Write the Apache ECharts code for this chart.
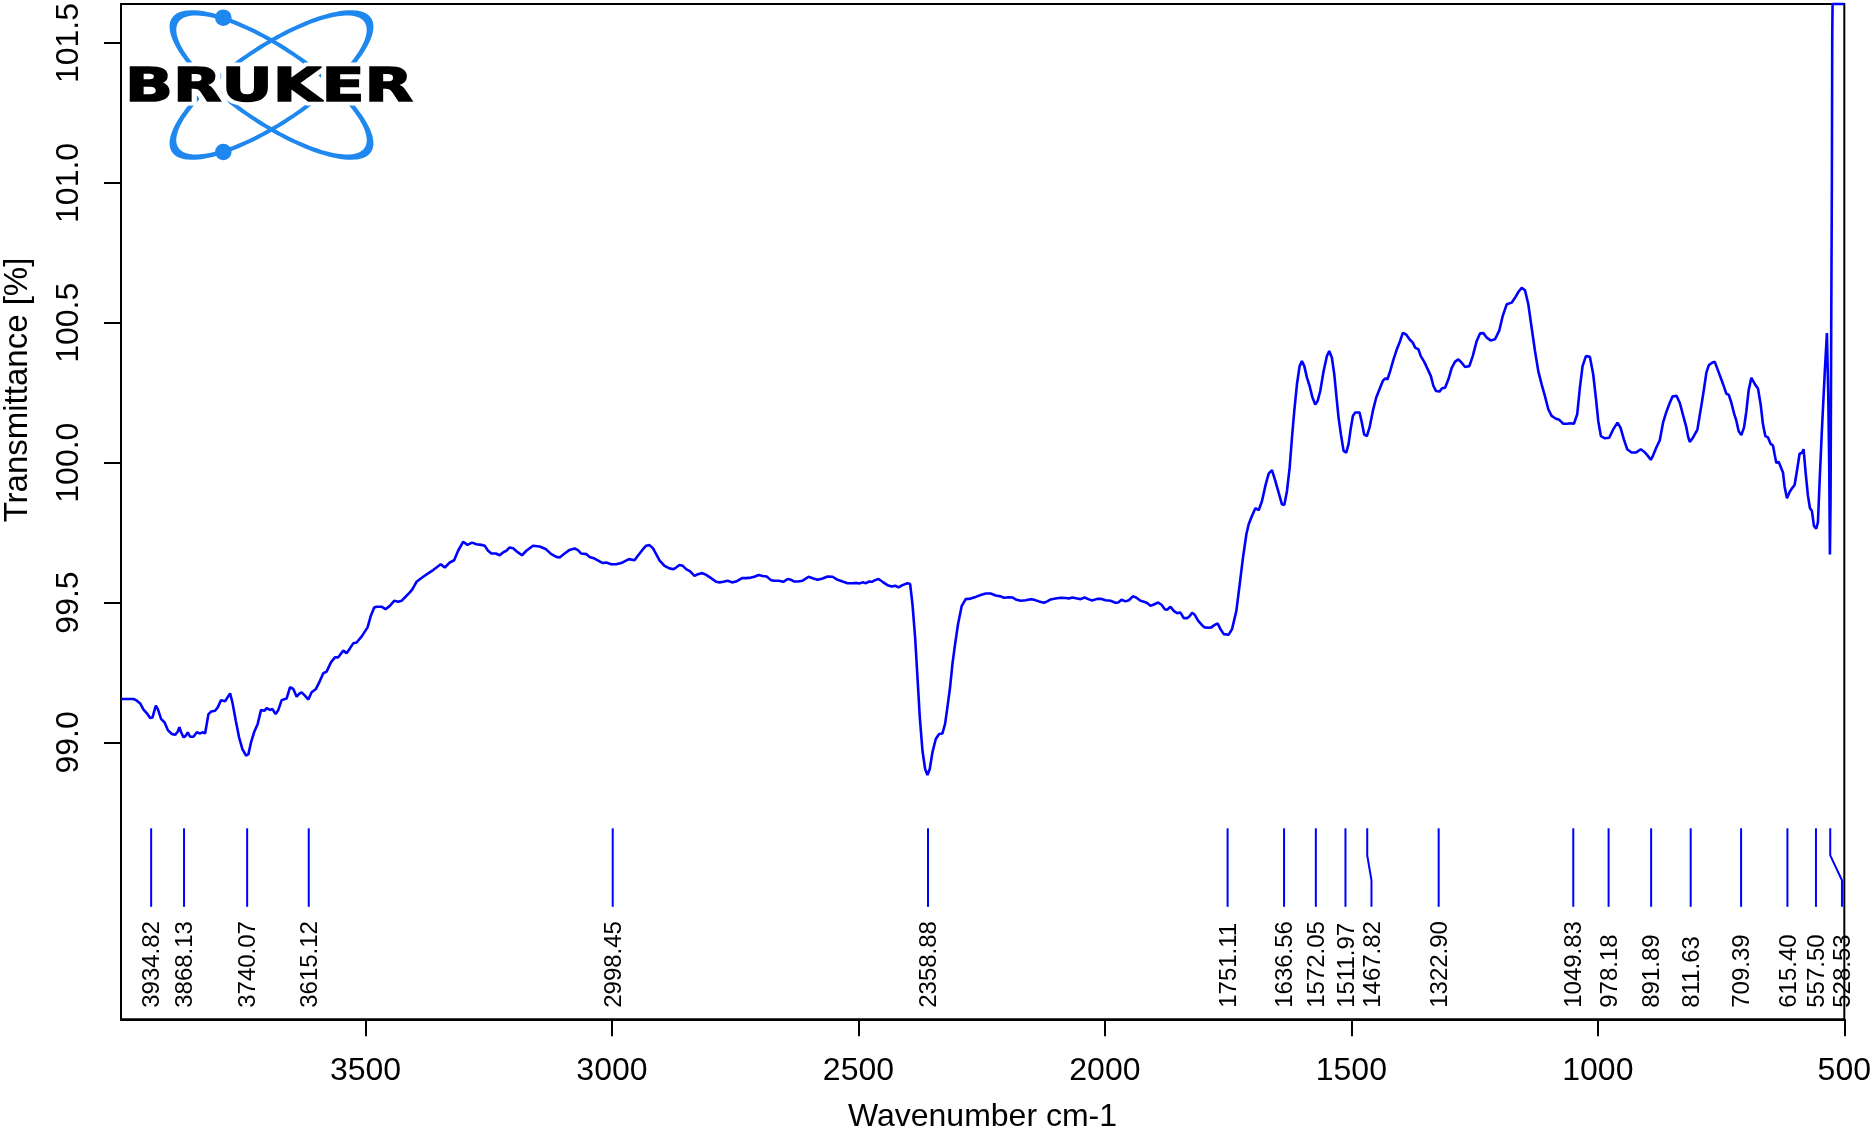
<!DOCTYPE html>
<html>
<head>
<meta charset="utf-8">
<script src="https://cdn.jsdelivr.net/npm/echarts@6.0.0/dist/echarts.min.js"></script>
<style>
  html, body { margin: 0; padding: 0; background: #fff; }
  #chart { width: 1874px; height: 1145px; }
</style>
</head>
<body>
<div id="chart"></div>
<script>
// spectrum (wavenumber in cm-1, transmittance in %)
const wavenumbers = [
  3996, 3970.6, 3963.8, 3957.1, 3950.3, 3943.5, 3936.8, 3932.1, 3925.3, 3921.3, 3914.5, 3907.8, 3901.0, 3892.9,
  3886.2, 3880.7, 3877.4, 3874.0, 3869.3, 3864.5, 3860.5, 3855.8, 3849.0, 3842.2, 3835.5, 3830.8, 3825.4, 3818.6,
  3813.2, 3805.1, 3799.7, 3793.0, 3784.9, 3774.7, 3770.0, 3763.2, 3756.5, 3749.7, 3742.3, 3737.5, 3732.2, 3725.4,
  3718.7, 3711.9, 3705.2, 3700.4, 3693.7, 3689.0, 3682.2, 3676.8, 3670.1, 3659.9, 3653.2, 3646.4, 3639.7, 3634.9,
  3629.5, 3622.8, 3616.0, 3609.3, 3600.5, 3592.4, 3585.6, 3578.9, 3570.1, 3562.0, 3555.3, 3545.1, 3538.4, 3531.6,
  3524.9, 3518.1, 3508.0, 3495.8, 3489.1, 3482.3, 3477.6, 3467.5, 3459.4, 3450.6, 3441.8, 3433.7, 3426.9, 3420.2,
  3410.1, 3404.7, 3396.5, 3389.8, 3383.0, 3372.9, 3362.8, 3356.0, 3347.3, 3339.1, 3329.0, 3320.2, 3312.1, 3302.0,
  3293.2, 3283.8, 3275.0, 3264.9, 3258.1, 3251.4, 3244.6, 3235.8, 3227.7, 3221.0, 3214.2, 3207.5, 3200.7, 3190.6,
  3182.5, 3173.7, 3160.2, 3146.7, 3134.5, 3123.0, 3112.9, 3106.2, 3096.0, 3085.9, 3075.8, 3069.0, 3062.3, 3052.1,
  3045.4, 3035.3, 3025.1, 3018.4, 3011.6, 3001.5, 2991.4, 2981.2, 2972.5, 2965.7, 2954.2, 2947.5, 2938.7, 2930.6,
  2923.8, 2917.0, 2910.3, 2903.6, 2893.4, 2883.3, 2875.2, 2869.8, 2863.1, 2856.3, 2849.6, 2841.4, 2832.7, 2825.9,
  2817.1, 2809.0, 2798.9, 2788.8, 2782.0, 2773.9, 2765.1, 2756.4, 2748.3, 2736.1, 2728.0, 2717.9, 2711.1, 2702.3,
  2694.2, 2686.1, 2677.4, 2670.6, 2661.8, 2652.4, 2643.6, 2636.8, 2630.1, 2623.3, 2613.2, 2601.0, 2592.9, 2582.8,
  2572.7, 2562.5, 2552.4, 2542.3, 2532.2, 2522.0, 2511.9, 2503.8, 2498.4, 2491.6, 2484.9, 2478.1, 2472.7, 2466.0,
  2459.2, 2451.1, 2441.0, 2432.2, 2425.5, 2418.7, 2410.6, 2400.5, 2395.1, 2390.4, 2385.0, 2380.2, 2375.5, 2370.1,
  2364.7, 2360.0, 2355.3, 2349.9, 2343.1, 2336.3, 2329.6, 2324.2, 2319.5, 2314.1, 2309.3, 2303.9, 2297.9, 2290.4,
  2282.3, 2272.2, 2262.1, 2251.9, 2241.8, 2231.7, 2221.5, 2211.4, 2204.7, 2194.5, 2187.8, 2181.0, 2170.9, 2160.8,
  2150.6, 2143.9, 2133.8, 2123.6, 2116.9, 2110.1, 2100.0, 2089.9, 2079.7, 2073.0, 2066.2, 2056.1, 2049.3, 2041.2,
  2033.8, 2025.7, 2015.6, 2008.8, 1998.7, 1988.6, 1978.4, 1973.0, 1966.3, 1958.2, 1951.4, 1943.3, 1936.6, 1927.8,
  1921.0, 1914.3, 1907.5, 1900.8, 1892.0, 1885.2, 1878.5, 1873.8, 1867.0, 1860.3, 1853.5, 1846.8, 1840.0, 1833.3,
  1828.5, 1823.1, 1817.7, 1811.0, 1802.9, 1797.5, 1789.4, 1784.0, 1777.2, 1771.1, 1765.7, 1758.9, 1748.8, 1742.1,
  1733.3, 1726.5, 1719.8, 1713.0, 1708.3, 1701.5, 1694.8, 1688.0, 1681.3, 1674.5, 1667.8, 1661.0, 1654.3, 1647.5,
  1640.8, 1636.0, 1630.6, 1625.2, 1620.5, 1615.8, 1610.4, 1605.0, 1600.3, 1595.5, 1590.1, 1584.7, 1579.3, 1573.2,
  1568.5, 1563.1, 1556.4, 1549.6, 1544.9, 1539.5, 1534.7, 1530.7, 1526.0, 1521.2, 1515.8, 1510.4, 1505.7, 1501.0,
  1496.9, 1492.2, 1483.4, 1478.7, 1474.0, 1468.6, 1463.2, 1456.4, 1449.7, 1442.9, 1436.2, 1431.4, 1426.7, 1421.3,
  1414.5, 1407.8, 1401.0, 1395.6, 1388.9, 1382.1, 1375.4, 1370.6, 1363.9, 1359.2, 1352.4, 1345.7, 1338.9, 1333.5,
  1328.1, 1321.3, 1315.9, 1309.9, 1303.1, 1296.4, 1289.6, 1282.9, 1276.1, 1269.4, 1260.6, 1253.8, 1245.7, 1239.0,
  1232.2, 1225.5, 1217.4, 1208.6, 1199.8, 1193.0, 1184.9, 1174.8, 1168.0, 1161.3, 1154.5, 1147.8, 1141.0, 1134.3,
  1127.5, 1120.8, 1114.0, 1107.3, 1100.5, 1093.8, 1085.0, 1078.2, 1070.1, 1062.0, 1055.3, 1048.5, 1041.8, 1036.4,
  1031.0, 1024.2, 1016.1, 1009.4, 1004.0, 999.2, 993.8, 985.7, 976.9, 968.8, 960.1, 954.0, 947.2, 940.5,
  931.7, 922.9, 912.8, 906.0, 899.3, 892.5, 887.8, 881.1, 874.3, 867.6, 860.8, 854.0, 848.6, 840.5,
  833.8, 827.0, 820.3, 816.9, 813.5, 806.8, 798.0, 793.3, 788.5, 784.5, 779.8, 775.0, 768.3, 762.9,
  756.1, 749.4, 744.0, 739.2, 734.5, 729.1, 723.7, 719.0, 714.3, 708.9, 703.5, 698.8, 694.0, 688.6,
  685.2, 680.5, 675.1, 669.7, 665.0, 660.2, 654.8, 649.4, 644.7, 641.3, 637.9, 633.2, 629.2, 624.4,
  621.1, 616.3, 610.9, 606.2, 600.8, 595.4, 590.7, 585.9, 582.6, 578.5, 573.8, 569.7, 565.7, 561.6,
  556.9, 553.5, 550.2, 545.4, 540.0, 535.3, 532.6, 530.6, 529.2, 527.9, 526.5, 525.2, 524.5, 523.8, 500
];
const transmittance = [
  99.155, 99.155, 99.149, 99.139, 99.117, 99.104, 99.087, 99.089, 99.131, 99.119, 99.083, 99.072, 99.044, 99.030,
  99.027, 99.039, 99.054, 99.036, 99.018, 99.024, 99.036, 99.020, 99.020, 99.036, 99.032, 99.036, 99.032, 99.101,
  99.110, 99.113, 99.125, 99.151, 99.147, 99.175, 99.143, 99.078, 99.018, 98.976, 98.953, 98.958, 99.000, 99.039,
  99.066, 99.116, 99.113, 99.122, 99.116, 99.119, 99.101, 99.116, 99.151, 99.157, 99.197, 99.191, 99.163, 99.173,
  99.179, 99.167, 99.153, 99.179, 99.191, 99.220, 99.247, 99.253, 99.286, 99.304, 99.304, 99.328, 99.319, 99.336,
  99.354, 99.357, 99.378, 99.411, 99.453, 99.482, 99.485, 99.485, 99.476, 99.488, 99.506, 99.503, 99.506, 99.518,
  99.536, 99.548, 99.574, 99.583, 99.592, 99.604, 99.616, 99.625, 99.637, 99.625, 99.643, 99.651, 99.685, 99.717,
  99.706, 99.714, 99.708, 99.706, 99.703, 99.685, 99.675, 99.675, 99.669, 99.679, 99.685, 99.697, 99.694, 99.679,
  99.669, 99.685, 99.703, 99.700, 99.691, 99.673, 99.663, 99.661, 99.675, 99.688, 99.693, 99.687, 99.675, 99.673,
  99.663, 99.657, 99.647, 99.641, 99.643, 99.637, 99.637, 99.641, 99.649, 99.655, 99.651, 99.667, 99.687, 99.703,
  99.705, 99.694, 99.673, 99.651, 99.631, 99.622, 99.619, 99.625, 99.634, 99.631, 99.619, 99.611, 99.595, 99.601,
  99.605, 99.599, 99.587, 99.574, 99.572, 99.574, 99.578, 99.572, 99.575, 99.587, 99.587, 99.589, 99.592, 99.598,
  99.595, 99.593, 99.580, 99.578, 99.578, 99.574, 99.584, 99.581, 99.575, 99.575, 99.578, 99.592, 99.587, 99.581,
  99.586, 99.593, 99.592, 99.581, 99.575, 99.569, 99.569, 99.570, 99.568, 99.572, 99.569, 99.575, 99.574, 99.580,
  99.584, 99.574, 99.562, 99.557, 99.560, 99.554, 99.562, 99.569, 99.566, 99.494, 99.375, 99.232, 99.089, 98.970,
  98.905, 98.883, 98.905, 98.964, 99.012, 99.030, 99.032, 99.066, 99.125, 99.197, 99.280, 99.351, 99.423, 99.488,
  99.512, 99.514, 99.520, 99.527, 99.532, 99.532, 99.525, 99.522, 99.517, 99.519, 99.518, 99.511, 99.506, 99.508,
  99.512, 99.510, 99.504, 99.499, 99.504, 99.511, 99.514, 99.517, 99.516, 99.514, 99.518, 99.514, 99.512, 99.518,
  99.512, 99.507, 99.513, 99.513, 99.508, 99.506, 99.499, 99.500, 99.510, 99.504, 99.508, 99.522, 99.518, 99.506,
  99.503, 99.498, 99.488, 99.493, 99.500, 99.492, 99.476, 99.474, 99.485, 99.470, 99.462, 99.464, 99.444, 99.444,
  99.450, 99.463, 99.456, 99.435, 99.419, 99.411, 99.410, 99.411, 99.420, 99.425, 99.405, 99.387, 99.385, 99.405,
  99.470, 99.566, 99.661, 99.744, 99.780, 99.810, 99.837, 99.830, 99.863, 99.917, 99.961, 99.973, 99.935, 99.893,
  99.851, 99.849, 99.899, 99.982, 100.089, 100.185, 100.280, 100.345, 100.363, 100.345, 100.304, 100.274, 100.235, 100.208,
  100.220, 100.256, 100.327, 100.381, 100.399, 100.375, 100.316, 100.244, 100.161, 100.101, 100.042, 100.036, 100.066, 100.125,
  100.167, 100.179, 100.179, 100.143, 100.101, 100.095, 100.125, 100.185, 100.232, 100.262, 100.292, 100.301, 100.298, 100.327,
  100.369, 100.405, 100.435, 100.464, 100.458, 100.441, 100.429, 100.411, 100.405, 100.381, 100.361, 100.336, 100.310, 100.274,
  100.256, 100.254, 100.266, 100.268, 100.298, 100.339, 100.361, 100.369, 100.357, 100.342, 100.345, 100.381, 100.435, 100.462,
  100.463, 100.447, 100.437, 100.441, 100.473, 100.524, 100.566, 100.572, 100.589, 100.610, 100.625, 100.616, 100.566, 100.482,
  100.399, 100.327, 100.280, 100.238, 100.191, 100.167, 100.157, 100.153, 100.139, 100.139, 100.141, 100.139, 100.173, 100.268,
  100.345, 100.381, 100.378, 100.316, 100.232, 100.149, 100.095, 100.087, 100.089, 100.119, 100.143, 100.125, 100.083, 100.048,
  100.036, 100.036, 100.048, 100.039, 100.026, 100.010, 100.026, 100.055, 100.080, 100.144, 100.182, 100.214, 100.236, 100.239,
  100.214, 100.169, 100.125, 100.093, 100.074, 100.090, 100.118, 100.169, 100.220, 100.265, 100.322, 100.348, 100.357, 100.361,
  100.329, 100.297, 100.271, 100.246, 100.243, 100.214, 100.176, 100.150, 100.112, 100.099, 100.125, 100.182, 100.259, 100.303,
  100.297, 100.278, 100.265, 100.208, 100.137, 100.095, 100.090, 100.067, 100.061, 100.029, 99.999, 100.003, 100.010, 99.965,
  99.914, 99.873, 99.895, 99.908, 99.920, 99.978, 100.032, 100.035, 100.048, 99.965, 99.882, 99.838, 99.827, 99.774,
  99.764, 99.787, 99.927, 100.118, 100.310, 100.463, 100.246, 99.991, 99.672, 99.863, 100.501, 101.011, 101.521, 101.64, 101.64
];
// peak picking labels
const peakWavenumbers = [
  3934.82, 3868.13, 3740.07, 3615.12, 2998.45, 2358.88, 1751.11, 1636.56, 1572.05, 1511.97,
  1467.82, 1322.90, 1049.83, 978.18, 891.89, 811.63, 709.39, 615.40, 557.50, 528.53
];
const xTickValues = [500, 1000, 1500, 2000, 2500, 3000, 3500];
const yTickValues = [99.0, 99.5, 100.0, 100.5, 101.0, 101.5];
const xRange = [500, 3996];
const yRange = [98.01, 101.64];

const FONT = '"Liberation Sans", Arial, sans-serif';
const LOGO_BLUE = '#1f88ee';

const chart = echarts.init(document.getElementById('chart'));

function renderPeak(params, api) {
  const cs = params.coordSys;
  const bottom = cs.y + cs.height;
  const xs = peakWavenumbers.map((w) => api.coord([w, yRange[0]])[0]);
  // push labels apart when two peaks are too close
  const lx = [];
  xs.forEach((x, i) => lx.push(i === 0 ? x : Math.max(x, lx[i - 1] + 26)));
  const i = params.dataIndex;
  const x = xs[i];
  const l = lx[i];
  return {
    type: 'group',
    children: [
      {
        type: 'polyline',
        shape: { points: [[x, bottom - 191], [x, bottom - 164], [l, bottom - 139], [l, bottom - 112.5]] },
        style: { stroke: '#0000ff', lineWidth: 2, fill: 'none' }
      },
      {
        type: 'text',
        x: l + 1.5,
        y: bottom - 11.5,
        rotation: Math.PI / 2,
        style: {
          text: peakWavenumbers[i].toFixed(2),
          font: '24px ' + FONT,
          fill: '#000',
          align: 'left',
          verticalAlign: 'middle'
        }
      }
    ]
  };
}

// one orbit of the logo: a crescent between two rotated ellipses
function orbit(cx, cy, deg) {
  const a = deg * Math.PI / 180, c = Math.cos(a), s = Math.sin(a);
  const pts = [];
  const ring = (ra, rb, dir) => {
    for (let k = 0; k <= 160; k++) {
      const t = dir * 2 * Math.PI * k / 160;
      const u = ra * Math.cos(t), w = rb * Math.sin(t);
      pts.push([cx + u * c - w * s, cy + u * s + w * c]);
    }
  };
  ring(120, 39.8, 1);
  ring(112.3, 35.8, -1);
  return pts;
}

const option = {
  animation: false,
  backgroundColor: '#fff',
  grid: {
    left: 121, right: 28, top: 2.7, bottom: 125.7,
    show: true, borderColor: '#000', borderWidth: 2, backgroundColor: 'transparent'
  },
  xAxis: {
    type: 'value',
    inverse: true,
    min: xRange[0],
    max: xRange[1],
    interval: 500,
    axisLine: { onZero: false, lineStyle: { color: '#000', width: 2 } },
    axisTick: { length: 17, lineStyle: { color: '#000', width: 2 }, customValues: xTickValues },
    axisLabel: {
      customValues: xTickValues,
      margin: 36,
      color: '#000',
      fontFamily: FONT,
      fontSize: 32,
      formatter: (v) => String(v)
    },
    splitLine: { show: false }
  },
  yAxis: {
    type: 'value',
    min: yRange[0],
    max: yRange[1],
    axisLine: { onZero: false, lineStyle: { color: '#000', width: 2 } },
    axisTick: { length: 17, lineStyle: { color: '#000', width: 2 }, customValues: yTickValues },
    axisLabel: {
      customValues: yTickValues,
      rotate: 90,
      margin: 36,
      color: '#000',
      fontFamily: FONT,
      fontSize: 32,
      formatter: (v) => v.toFixed(1)
    },
    splitLine: { show: false }
  },
  series: [
    {
      type: 'line',
      data: wavenumbers.map((w, i) => [w, transmittance[i]]),
      showSymbol: false,
      lineStyle: { color: '#0000ff', width: 2.6 },
      silent: true
    },
    {
      type: 'custom',
      data: peakWavenumbers.map((w) => [w, yRange[0]]),
      renderItem: renderPeak,
      silent: true,
      clip: false
    }
  ],
  graphic: [
    { type: 'polygon', z: 100, shape: { points: orbit(271.5, 85, 34) }, style: { fill: LOGO_BLUE } },
    { type: 'polygon', z: 100, shape: { points: orbit(271.5, 85, -34) }, style: { fill: LOGO_BLUE } },
    { type: 'circle', z: 100, shape: { cx: 223.3, cy: 17.7, r: 8.3 }, style: { fill: LOGO_BLUE } },
    { type: 'circle', z: 100, shape: { cx: 223.3, cy: 152, r: 8.3 }, style: { fill: LOGO_BLUE } },
    {
      type: 'text', z: 101, x: 269, y: 89, scaleX: 1.37,
      style: {
        text: 'BRUKER', font: 'bold 46px "DejaVu Sans", sans-serif',
        fill: '#fff', stroke: '#fff', lineWidth: 9, align: 'center', verticalAlign: 'middle'
      }
    },
    {
      type: 'text', z: 102, x: 269, y: 89, scaleX: 1.37,
      style: {
        text: 'BRUKER', font: 'bold 46px "DejaVu Sans", sans-serif',
        fill: '#000', stroke: '#000', lineWidth: 1.5, align: 'center', verticalAlign: 'middle'
      }
    },
    {
      type: 'text', x: 18, y: 390, rotation: Math.PI / 2,
      style: { text: 'Transmittance [%]', font: '33px ' + FONT, fill: '#000', align: 'center', verticalAlign: 'middle' }
    },
    {
      type: 'text', x: 982.5, y: 1117,
      style: { text: 'Wavenumber cm-1', font: '32px ' + FONT, fill: '#000', align: 'center', verticalAlign: 'middle' }
    }
  ]
};

chart.setOption(option);
</script>
</body>
</html>
